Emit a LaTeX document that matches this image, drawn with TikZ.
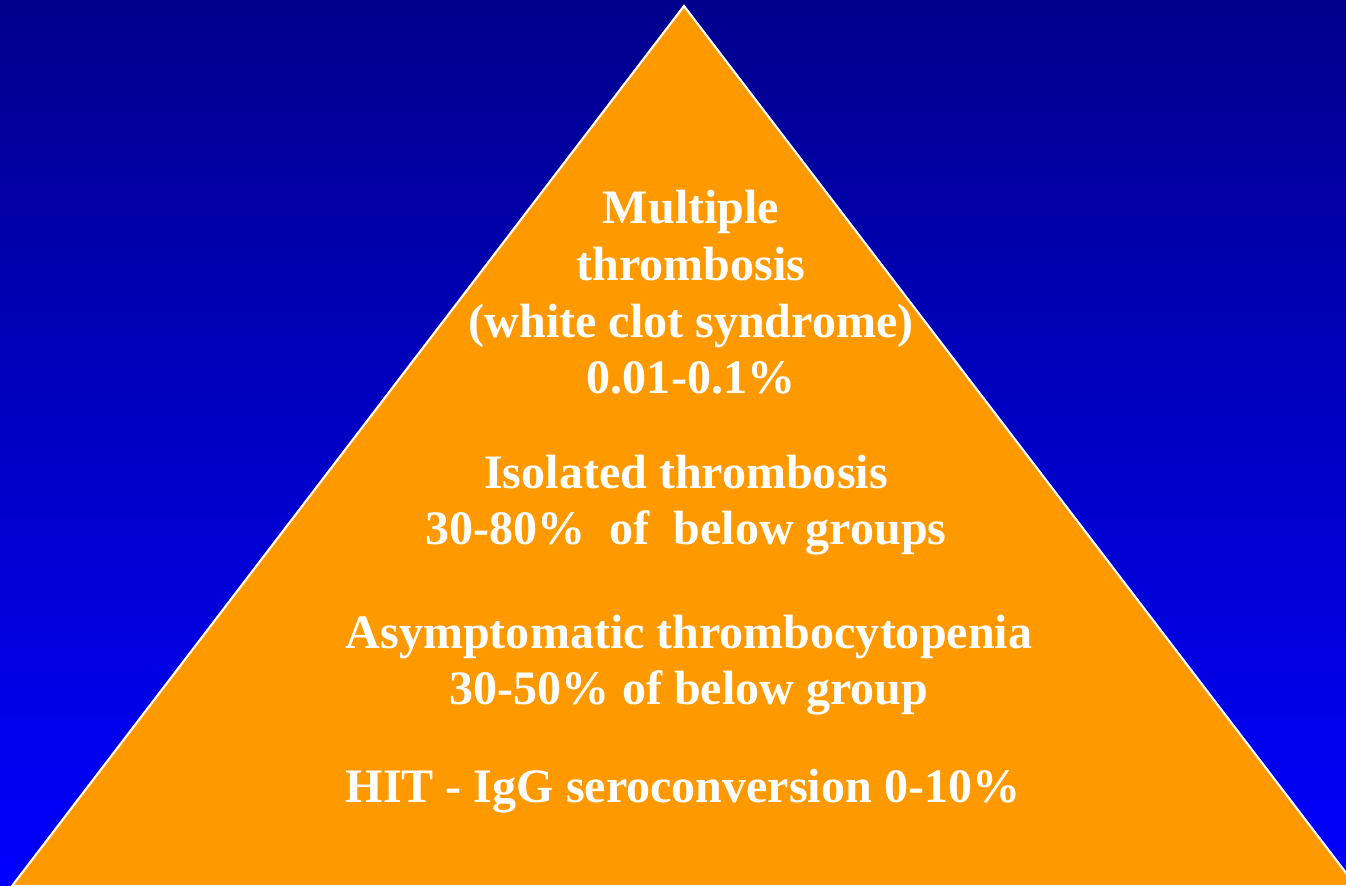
\documentclass[tikz,border=0pt]{standalone}
\usepackage{fontspec}
\setmainfont{Liberation Serif}
\usepackage{tikz}
\usetikzlibrary{positioning}

\definecolor{skytop}{RGB}{0,0,139}
\definecolor{skybottom}{RGB}{0,0,255}
\definecolor{pyramid}{RGB}{255,153,0}
\definecolor{label}{RGB}{255,255,255}

\tikzset{
    tier/.style={
        anchor=base,
        align=center,
        inner sep=0pt,
        text=label,
        font=\bfseries\fontsize{13.66pt}{16.2pt}\selectfont
    },
    outline/.style={
        fill=pyramid,
        draw=white,
        line width=0.6pt,
        line join=miter
    }
}

\begin{document}
\begin{tikzpicture}[x=0.01cm, y=-0.01cm]

\useasboundingbox (0,0) rectangle (1346,886);

% Background
\shade[top color=skytop, bottom color=skybottom] (0,0) rectangle (1346,886);

% Pyramid
\begin{scope}
    \clip (0,0) rectangle (1346,886);
    \coordinate (apex) at (684,6);
    \coordinate (left) at (12,886);
    \coordinate (right) at (1356,886);
    \path[outline] (apex) -- (right) -- (left) -- cycle;
\end{scope}

% Tiers, top to bottom (base = baseline of last line)
\node[tier] (multiple) at (691,394)
    {Multiple\\thrombosis\\(white clot syndrome)\\0.01-0.1\%};
\node[tier] (isolated) at (686,545)
    {Isolated thrombosis\\30-80\%\ \ of\ \ below groups};
\node[tier] (asympt) at (689,705)
    {Asymptomatic thrombocytopenia\\30-50\% of below group};
\node[tier] (hit) at (683,802)
    {HIT - IgG seroconversion 0-10\%};

\end{tikzpicture}
\end{document}
